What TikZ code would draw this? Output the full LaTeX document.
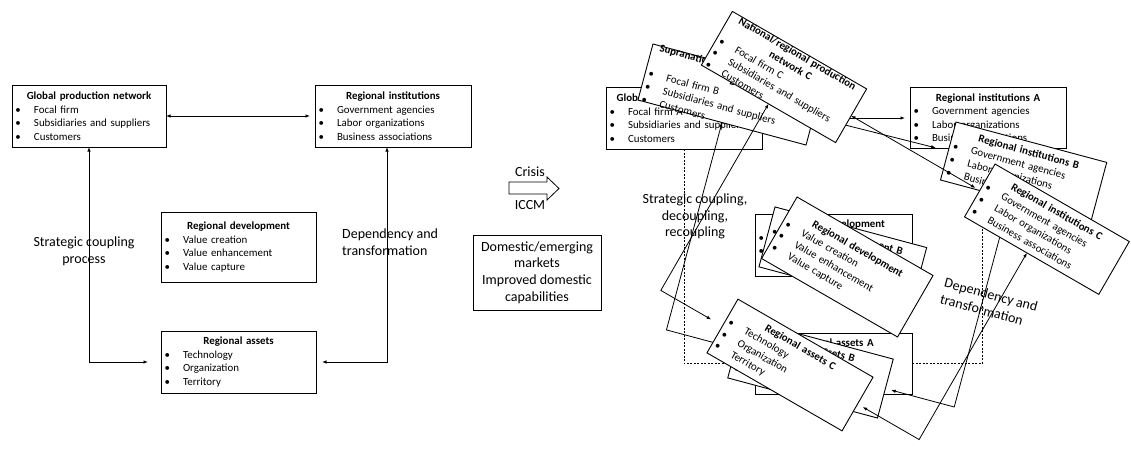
\documentclass[tikz,border=0pt]{standalone}
\usepackage{fontspec}
\setmainfont{Carlito}
\usetikzlibrary{calc,arrows.meta}
\newcommand{\bitem}[1]{\par\noindent\hspace*{3.5pt}\makebox[18.5pt][l]{\textbullet}#1}
\newcommand{\ctxt}[4]{{\centering\textbf{#1}\par}\raggedright\bitem{#2}\bitem{#3}\bitem{#4}\par}
\newcommand{\card}[6]{%
  \node[cardbox, rotate=#3, minimum width=#4, minimum height=#5] (#1) at (#2) {};
  \node[cardtext=#4, rotate=#3] (#1-t) at (#1.center) {#6};}
\tikzset{
 cardbox/.style={draw=black, fill=white, line width=0.9pt, inner sep=0pt, outer sep=0pt},
 cardtext/.style={inner sep=0pt, outer sep=0pt, text width=#1, font=\fontsize{10.9}{13.5}\selectfont},
 conn/.style={line width=0.8pt, <->},
 dashconn/.style={line width=0.8pt, dash pattern=on 2pt off 1.5pt},
 lbl/.style={font=\fontsize{14}{17}\selectfont, inner sep=0pt, align=center},
}
\begin{document}
\begin{tikzpicture}[x=1pt,y=-1pt,>={Latex[length=4.5pt,width=3.5pt]}]
\useasboundingbox (0,0) rectangle (1131,448);
% ---------------- left panel
\card{gpn}{89,116}{0}{154pt}{62pt}{\ctxt{Global production network}{Focal firm}{Subsidiaries and suppliers}{Customers}}
\card{ri}{393,116}{0}{156pt}{62pt}{\ctxt{Regional institutions}{Government agencies}{Labor organizations}{Business associations}}
\card{rd}{238.5,247}{0}{155pt}{70pt}{\ctxt{Regional development}{Value creation}{Value enhancement}{Value capture}}
\card{ra}{238.5,362}{0}{155pt}{62pt}{\ctxt{Regional assets}{Technology}{Organization}{Territory}}
\draw[conn, shorten >=5pt] (gpn.east) -- (ri.west);
\coordinate (kL) at (gpn.south |- ra.west);
\draw[conn, shorten >=13pt] (gpn.south) -- (kL) -- (ra.west);
\coordinate (riS) at ($(ri.south west)+(72,0)$);
\coordinate (kR) at (riS |- ra.east);
\draw[conn, shorten >=6pt] (riS) -- (kR) -- (ra.east);
\node[lbl] (lsc) at (84,251.5) {Strategic coupling\\process};
\node[lbl, align=left, anchor=west] (ldt) at (342,242) {Dependency and\\transformation};
% ---------------- middle
\draw[line width=0.8pt] (509,182) -- (547,182) -- (547,177) -- (559,188.5) -- (547,200) -- (547,194) -- (509,194) -- cycle;
\node[font=\fontsize{14}{16}\selectfont, inner sep=0pt] (crisis) at (530,172) {Crisis};
\node[font=\fontsize{14}{16}\selectfont, inner sep=0pt] (iccm) at (530,205) {ICCM};
\node[draw, line width=0.9pt, minimum width=128pt, minimum height=75pt, inner sep=0pt, align=center, font=\fontsize{14}{16.7}\selectfont] (dom) at (537,272.5) {Domestic/emerging\\markets\\Improved domestic\\capabilities};
% ---------------- right panel, level A
\card{gpnA}{684,118}{0}{156pt}{62pt}{\ctxt{Global production network A}{Focal firm A}{Subsidiaries and suppliers}{Customers}}
\card{riA}{988,117.5}{0}{156pt}{61pt}{\ctxt{Regional institutions A}{Government agencies}{Labor organizations}{Business associations}}
\card{rdA}{833.5,245}{0}{157pt}{62pt}{\ctxt{Regional development}{Value creation}{Value enhancement}{Value capture}}
\card{asA}{833.5,363.5}{0}{157pt}{61pt}{\ctxt{Regional assets A}{Technology}{Organization}{Territory}}
\draw[conn, shorten >=5pt] (gpnA.east) -- (gpnA.east -| riA.west);
\draw[dashconn] (gpnA.south) -- (gpnA.south |- asA.west) -- (asA.west);
\coordinate (riAs) at ($(riA.south west)+(72,0)$);
\draw[dashconn] (riAs) -- (riAs |- asA.east) -- (asA.east);
% ---------------- level B
\card{npnB}{729.5,94.5}{-15}{174pt}{58pt}{\ctxt{Supranational production network\\B}{Focal firm B}{Subsidiaries and suppliers}{Customers}}
\card{riB}{1023.6,171.2}{-15}{156pt}{60pt}{\ctxt{Regional institutions B}{Government agencies}{Labor organizations}{Business associations}}
\card{rdB}{842.8,257.2}{-15}{157pt}{62pt}{\ctxt{Regional development B}{Value creation}{Value enhancement}{Value capture}}
\card{asB}{810.5,368.5}{-15}{155pt}{61pt}{\ctxt{Regional assets B}{Technology}{Organization}{Territory}}
\draw[conn, shorten >=13pt] (npnB.east) -- (riB.west);
\coordinate (kBL) at ($(npnB.north)!(asB.center)!(npnB.south)$);
\draw[conn, shorten >=13pt] (npnB.south) -- (kBL) -- (asB.west);
\coordinate (riBs) at ($(riB.south west)!0.4615!(riB.south east)$);
\coordinate (riBn) at ($(riB.north west)!0.4615!(riB.north east)$);
\coordinate (kBR) at ($(riBn)!(asB.center)!(riBs)$);
\draw[conn, shorten >=6pt] (riBs) -- (kBR) -- (asB.east);
% ---------------- level C
\card{npnC}{784,77}{-30}{155pt}{62pt}{\ctxt{National/regional production\\network C}{Focal firm C}{Subsidiaries and suppliers}{Customers}}
\card{riC}{1046.9,229.2}{-30}{155pt}{61pt}{\ctxt{Regional institutions C}{Government agencies}{Labor organizations}{Business associations}}
\card{rdC}{847.3,267}{-30}{157pt}{71pt}{\ctxt{Regional development}{Value creation}{Value enhancement}{Value capture}}
\card{asC}{790,365}{-30}{156pt}{62pt}{\ctxt{Regional assets C}{Technology}{Organization}{Territory}}
\draw[conn, shorten >=5pt] (npnC.east) -- (riC.west);
\coordinate (kCL) at ($(npnC.north)!(asC.center)!(npnC.south)$);
\draw[conn, shorten >=13pt] (npnC.south) -- (kCL) -- (asC.west);
\coordinate (riCs) at ($(riC.south west)!0.4645!(riC.south east)$);
\coordinate (riCn) at ($(riC.north west)!0.4645!(riC.north east)$);
\coordinate (kCR) at ($(riCn)!(asC.center)!(riCs)$);
\draw[conn, shorten >=6pt] (riCs) -- (kCR) -- (asC.east);
% ---------------- right labels
\node[lbl, font=\fontsize{14}{16.5}\selectfont] (rsc) at (695,216.5) {Strategic coupling,\\decoupling,\\recoupling};
\node[lbl, align=left, anchor=west, rotate=-15] (rdt) at (942.5,290.5) {Dependency and\\transformation};
\end{tikzpicture}
\end{document}
